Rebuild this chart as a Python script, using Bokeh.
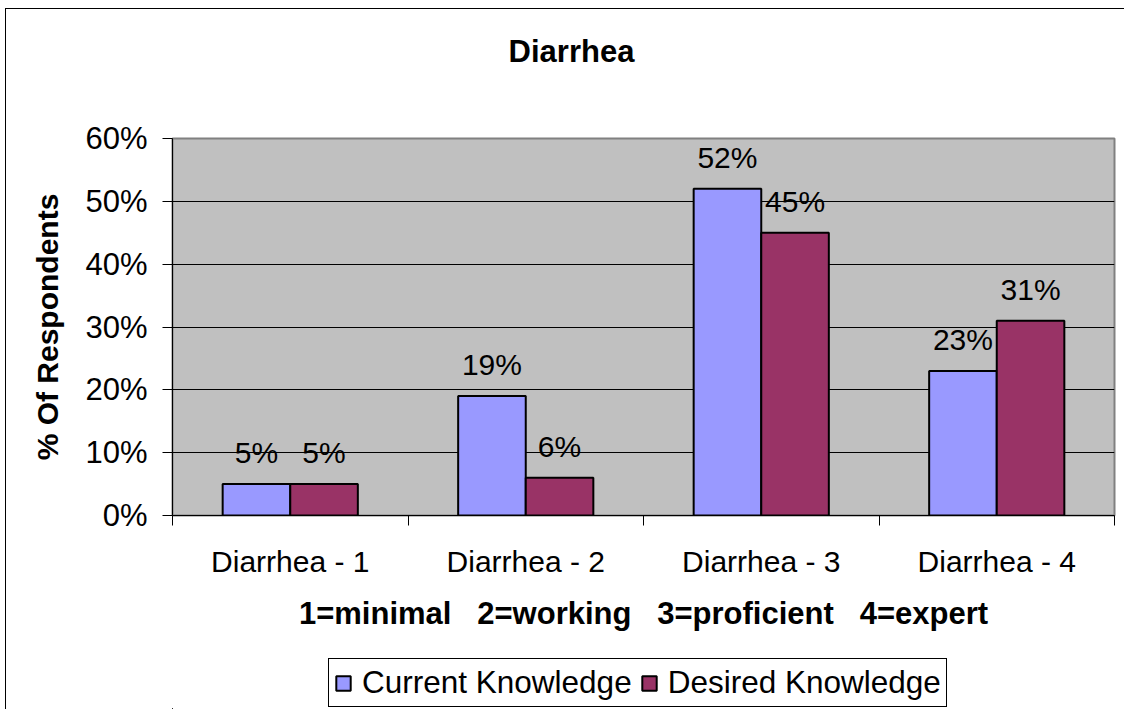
from bokeh.plotting import figure
from bokeh.layouts import column
from bokeh.models import (ColumnDataSource, FixedTicker, NumeralTickFormatter,
                          LabelSet, Label, Legend, LegendItem, Range1d)
from bokeh.core.properties import value
from bokeh.embed import file_html
from bokeh.resources import INLINE

# ---- data ----
categories = ["Diarrhea - 1", "Diarrhea - 2", "Diarrhea - 3", "Diarrhea - 4"]
current = [0.05, 0.19, 0.52, 0.23]
desired = [0.05, 0.06, 0.45, 0.31]
current_labels = ["5%", "19%", "52%", "23%"]
desired_labels = ["5%", "6%", "45%", "31%"]
series_names = ["Current Knowledge", "Desired Knowledge"]
y_ticks = [0.0, 0.1, 0.2, 0.3, 0.4, 0.5, 0.6]
chart_title = "Diarrhea"
x_title = "1=minimal   2=working   3=proficient   4=expert"
y_title = "% Of Respondents"

# ---- style / layout ----
FONT = "Liberation Sans"
C_CUR = "#9999FF"
C_DES = "#993366"
BAR_W = 0.287
W = 1124
H_TITLE = 108
H_MAIN = 547
H_LEG = 54
BL, BR = 172, 10          # left / right borders of every strip (frames aligned)

centers = [i + 0.5 for i in range(len(categories))]
bounds = [float(i) for i in range(len(categories) + 1)]

src_cur = ColumnDataSource(dict(x=[c - BAR_W / 2 for c in centers], top=current, lab=current_labels))
src_des = ColumnDataSource(dict(x=[c + BAR_W / 2 for c in centers], top=desired, lab=desired_labels))


def strip(height, xr, yr):
    f = figure(width=W, height=height, output_backend="svg", toolbar_location=None,
               x_range=xr, y_range=yr, min_border_left=BL, min_border_right=BR,
               min_border_top=0, min_border_bottom=0)
    f.axis.visible = False
    f.grid.visible = False
    f.outline_line_color = None
    f.background_fill_color = None
    f.border_fill_color = None
    return f


# ---- title strip ----
pt = strip(H_TITLE, Range1d(BL, W - BR), Range1d(H_TITLE, 0))
pt.add_layout(Label(x=571, y=51, text=chart_title, text_align="center",
                    text_baseline="alphabetic", text_font=FONT, text_font_size="31px",
                    text_font_style="bold", text_color="black"))

# ---- main chart ----
p = figure(width=W, height=H_MAIN, output_backend="svg", toolbar_location=None,
           x_range=Range1d(0, len(categories)), y_range=Range1d(y_ticks[0], y_ticks[-1]),
           min_border_left=BL, min_border_right=BR, min_border_top=30, min_border_bottom=140)

p.background_fill_color = "#C0C0C0"
p.border_fill_color = None
p.outline_line_color = "#808080"
p.outline_line_width = 2

bar_style = [dict(fill_color=C_CUR, line_color="black", line_width=2),
             dict(fill_color=C_DES, line_color="black", line_width=2)]

r1 = p.vbar(x="x", top="top", width=BAR_W, source=src_cur, **bar_style[0])
r2 = p.vbar(x="x", top="top", width=BAR_W, source=src_des, **bar_style[1])

for src in (src_cur, src_des):
    p.add_layout(LabelSet(x="x", y="top", text="lab", source=src, y_offset=21,
                          text_align="center", text_baseline="alphabetic",
                          text_font=value(FONT), text_font_size="30px", text_color="black"))

p.xgrid.visible = False
p.ygrid.ticker = FixedTicker(ticks=y_ticks[1:-1])
p.ygrid.grid_line_color = "black"
p.ygrid.grid_line_width = 1

ya = p.yaxis[0]
ya.ticker = FixedTicker(ticks=y_ticks)
ya.formatter = NumeralTickFormatter(format="0%")
ya.major_tick_in = 0
ya.major_tick_out = 10
ya.minor_tick_line_color = None
ya.axis_line_color = "black"
ya.major_tick_line_color = "black"
ya.major_label_text_font = FONT
ya.major_label_text_font_size = "31px"
ya.major_label_text_color = "black"
ya.major_label_standoff = 15
ya.axis_label = y_title
ya.axis_label_text_font = FONT
ya.axis_label_text_font_size = "30px"
ya.axis_label_text_font_style = "bold"
ya.axis_label_text_color = "black"
ya.axis_label_standoff = 18

xa = p.xaxis[0]
xa.ticker = FixedTicker(ticks=centers, minor_ticks=bounds)
xa.major_label_overrides = {c: n for c, n in zip(centers, categories)}
xa.major_tick_in = 0
xa.major_tick_out = 0
xa.minor_tick_in = 0
xa.minor_tick_out = 10
xa.minor_tick_line_color = "black"
xa.axis_line_color = "black"
xa.major_label_text_font = FONT
xa.major_label_text_font_size = "30px"
xa.major_label_text_color = "black"
xa.major_label_standoff = 19
xa.axis_label = x_title.replace("   ", " \u00a0 ")
xa.axis_label_text_font = FONT
xa.axis_label_text_font_size = "31px"
xa.axis_label_text_font_style = "bold"
xa.axis_label_text_color = "black"
xa.axis_label_standoff = 15

# ---- legend strip (series drawn outside its view; only the swatches show) ----
pl = strip(H_LEG, Range1d(100, 101), Range1d(100, 101))
l1 = pl.vbar(x="x", top="top", width=BAR_W, source=src_cur, **bar_style[0])
l2 = pl.vbar(x="x", top="top", width=BAR_W, source=src_des, **bar_style[1])

legend = Legend(items=[LegendItem(label=series_names[0], renderers=[l1]),
                       LegendItem(label=series_names[1], renderers=[l2])],
                orientation="horizontal", location=(328 - BL, 2))
legend.label_text_font = FONT
legend.label_text_font_size = "31.5px"
legend.label_text_color = "black"
legend.glyph_width = 18
legend.glyph_height = 18
legend.label_standoff = 10
legend.spacing = 8
legend.padding = 5
legend.border_line_color = "black"
legend.border_line_width = 1
legend.border_line_alpha = 1
legend.background_fill_color = "white"
legend.background_fill_alpha = 1
legend.margin = 0
pl.add_layout(legend, "center")

layout = column(pt, p, pl, spacing=0)
layout.styles = {
    "background": ("linear-gradient(black, black) 5px 8px / 1px 100% no-repeat, "
                   "linear-gradient(black, black) 5px 8px / 100% 1px no-repeat, white"),
}

open("out.html", "w").write(file_html(layout, INLINE))
